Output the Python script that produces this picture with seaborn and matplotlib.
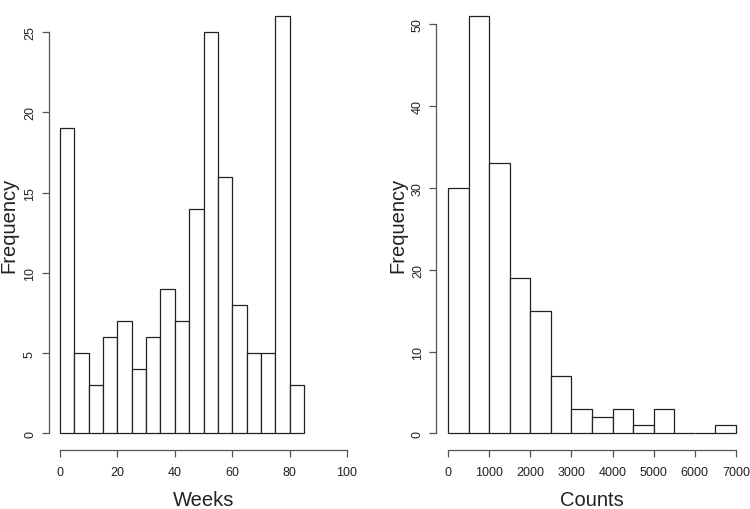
import numpy as np
import pandas as pd
import matplotlib
matplotlib.use("Agg")
import matplotlib.pyplot as plt
import seaborn as sns

# Left histogram: Weeks
weeks_edges = [0, 5, 10, 15, 20, 25, 30, 35, 40, 45, 50, 55, 60, 65, 70, 75, 80, 85]
weeks_counts = [19, 5, 3, 6, 7, 4, 6, 9, 7, 14, 25, 16, 8, 5, 5, 26, 3]
weeks_xticks = [0, 20, 40, 60, 80, 100]
weeks_yticks = [0, 5, 10, 15, 20, 25]

# Right histogram: Counts
counts_edges = [0, 500, 1000, 1500, 2000, 2500, 3000, 3500, 4000, 4500, 5000,
                5500, 6000, 6500, 7000]
counts_counts = [30, 51, 33, 19, 15, 7, 3, 2, 3, 1, 3, 0, 0, 1]
counts_xticks = [0, 1000, 2000, 3000, 4000, 5000, 6000, 7000]
counts_yticks = [0, 10, 20, 30, 40, 50]

sns.set_style("ticks")
plt.rcParams['font.family'] = ['Liberation Sans', 'DejaVu Sans']

W, H = 750, 510
fig = plt.figure(figsize=(7.5, 5.1), dpi=100)

def px_axes(l, r, b, t):
    return fig.add_axes([l / W, 1 - b / H, (r - l) / W, (b - t) / H])

def draw(ax, edges, counts, xticks, yticks, xlim, xlabel, xlab_px, ylab_px):
    e = np.array(edges, dtype=float)
    centers = (e[:-1] + e[1:]) / 2
    df = pd.DataFrame({"x": centers, "w": counts})
    sns.histplot(data=df, x="x", weights="w", bins=edges, ax=ax,
                 color="white", edgecolor="#222222", linewidth=0.9, alpha=1)
    ymax = max(counts)
    pad_y = 0.04 * ymax
    pad_x = 0.04 * (xlim[1] - xlim[0])
    ax.set_xlim(xlim[0] - pad_x, xlim[1] + pad_x)
    ax.set_ylim(-pad_y, ymax + pad_y)
    for s in ["top", "right"]:
        ax.spines[s].set_visible(False)
    ax.spines["left"].set_bounds(yticks[0], yticks[-1])
    ax.spines["bottom"].set_bounds(xticks[0], xticks[-1])
    for s in ["left", "bottom"]:
        ax.spines[s].set_color("#555555")
        ax.spines[s].set_linewidth(0.9)
    ax.set_xticks(xticks)
    ax.set_yticks(yticks)
    ax.set_yticklabels([str(v) for v in yticks], rotation=90, va="center")
    ax.tick_params(axis="both", direction="out", length=5, width=0.9,
                   color="#555555", labelsize=9, labelcolor="#222222")
    ax.tick_params(axis="x", pad=6.5)
    ax.tick_params(axis="y", pad=4)
    ax.set_xlabel("")
    ax.set_ylabel("")
    fig.text(xlab_px[0] / W, 1 - xlab_px[1] / H, xlabel, ha="center",
             va="baseline", fontsize=14.5, color="#222222")
    fig.text(ylab_px[0] / W, 1 - ylab_px[1] / H, "Frequency", ha="center",
             va="center", rotation=90, fontsize=14.5, color="#222222")
    ax.patch.set_alpha(0)

ax1 = px_axes(48.5, 358.5, 451, 0.5)
draw(ax1, weeks_edges, weeks_counts, weeks_xticks, weeks_yticks, (0, 100),
     "Weeks", (204, 506), (9, 225))

ax2 = px_axes(436.5, 747.5, 451, 0.5)
draw(ax2, counts_edges, counts_counts, counts_xticks, counts_yticks, (0, 7000),
     "Counts", (592, 506), (398, 225))

fig.savefig("out.png", dpi=100)
